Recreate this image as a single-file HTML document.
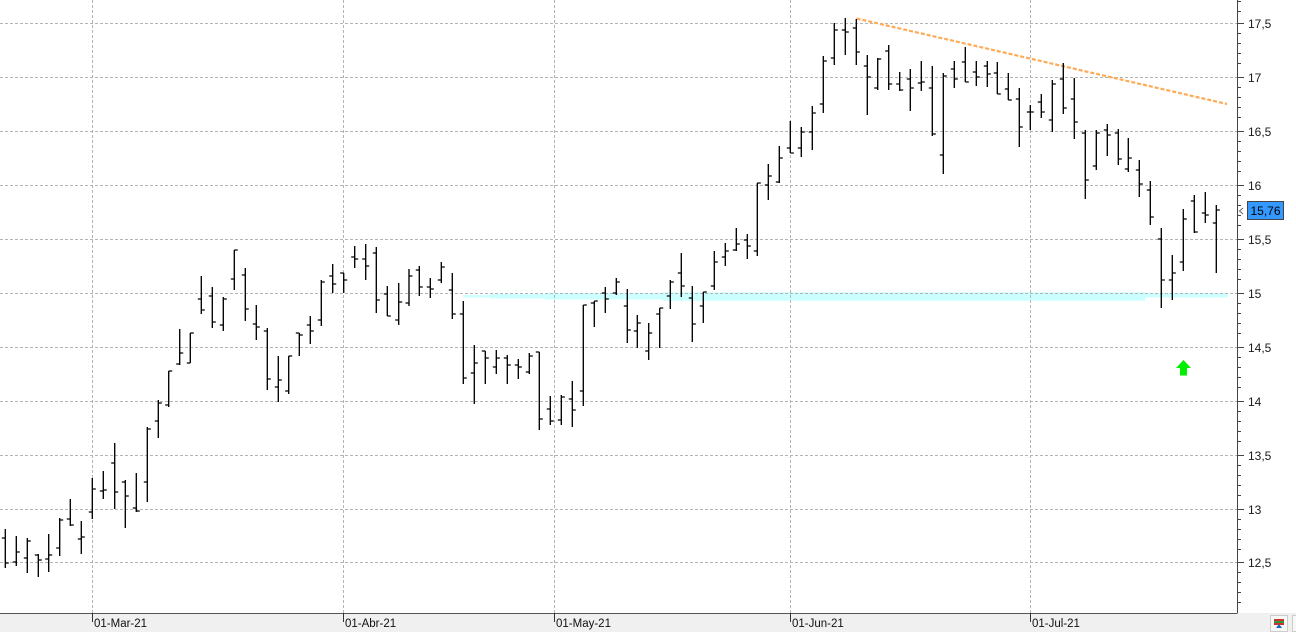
<!DOCTYPE html>
<html><head><meta charset="utf-8"><style>
html,body{margin:0;padding:0;background:#fff;}
svg{display:block;font-family:"Liberation Sans",Arial,sans-serif;}
</style></head><body>
<svg width="1296" height="632" viewBox="0 0 1296 632" xmlns="http://www.w3.org/2000/svg">
<rect x="0" y="0" width="1296" height="632" fill="#fff"/>
<g fill="#ccffff">
<rect x="463" y="295" width="30" height="2.5"/>
<rect x="490" y="294" width="60" height="4.5"/>
<rect x="545" y="293" width="600" height="6.5"/>
<rect x="663" y="292.3" width="482" height="8.5"/>
<rect x="1145" y="293" width="83" height="4.5"/>
</g>
<g stroke="#b4b4b4" stroke-width="1" stroke-dasharray="3 2" fill="none">
<path d="M0 23.5H1237M0 77.5H1237M0 131.5H1237M0 185.5H1237M0 239.5H1237M0 293.5H1237M0 347.5H1237M0 401.5H1237M0 455.5H1237M0 509.5H1237M0 562.5H1237"/>
<path d="M92.5 0V613M343.5 0V613M554.5 0V613M790.5 0V613M1030.5 0V613"/>
</g>
<line x1="856.5" y1="18.5" x2="1227" y2="104" stroke="#ffaa55" stroke-width="2.2" stroke-dasharray="4 2"/>
<path fill="none" stroke="#000" stroke-width="1.35" d="M5.3 529V568M1.8 538H5.3M5.3 563H8.8M16.3 536V566M12.8 562H16.3M16.3 552H19.8M27.3 538V573M23.8 558H27.3M27.3 541H30.8M38.3 554V577M34.8 555H38.3M38.3 560H41.8M48.7 534V572M45.2 559H48.7M48.7 555H52.2M59.7 518V556M56.2 548H59.7M59.7 520H63.2M70.3 499V526M66.8 519H70.3M70.3 525H73.8M81.3 521V554M77.8 539H81.3M81.3 537H84.8M92.3 478V519M88.8 512H92.3M92.3 489H95.8M103.3 471V499M99.8 491H103.3M103.3 490H106.8M114.7 443V509M111.2 463H114.7M114.7 492H118.2M125.3 480V528M121.8 482H125.3M125.3 496H128.8M136.3 473V512M132.8 508H136.3M136.3 511H139.8M147.3 427V502M143.8 482H147.3M147.3 429H150.8M158.3 400V438M154.8 421H158.3M158.3 403H161.8M168.7 371V407M165.2 405H168.7M168.7 371H172.2M179.7 329V365M176.2 364H179.7M179.7 353H183.2M190.3 333V363M186.8 363H190.3M190.3 333H193.8M201.3 276V314M197.8 299H201.3M201.3 310H204.8M212.3 287V328M208.8 296H212.3M212.3 322H215.8M223.3 297V331M219.8 325H223.3M223.3 299H226.8M234.3 250V290M230.8 279H234.3M234.3 250H237.8M245.3 268V321M241.8 275H245.3M245.3 309H248.8M256.3 305V340M252.8 324H256.3M256.3 327H259.8M267.3 328V390M263.8 331H267.3M267.3 379H270.8M278.3 356V402M274.8 387H278.3M278.3 380H281.8M288.7 356V394M285.2 391H288.7M288.7 356H292.2M299.3 333V356M295.8 333H299.3M299.3 335H302.8M310.3 316V344M306.8 325H310.3M310.3 331H313.8M321.3 280V326M317.8 320H321.3M321.3 282H324.8M332.7 264V293M329.2 276H332.7M332.7 284H336.2M343.7 273V293M340.2 273H343.7M343.7 280H347.2M354.7 246V268M351.2 257H354.7M354.7 259H358.2M365.7 244V280M362.2 259H365.7M365.7 266H369.2M376.3 247V313M372.8 253H376.3M376.3 300H379.8M387.3 286V316M383.8 294H387.3M387.3 316H390.8M398.7 283V325M395.2 320H398.7M398.7 302H402.2M409 269V306M405.5 303H409M409 276H412.5M419.3 266V296M415.8 270H419.3M419.3 287H422.8M430.3 278V298M426.8 287H430.3M430.3 289H433.8M441.3 262V283M437.8 280H441.3M441.3 267H444.8M452.3 273V319M448.8 290H452.3M452.3 314H455.8M463.3 301V384M459.8 314H463.3M463.3 378H466.8M474.3 345V404M470.8 373H474.3M474.3 363H477.8M485.3 351V384M481.8 351H485.3M485.3 358H488.8M496.3 350V374M492.8 367H496.3M496.3 358H499.8M507.3 355V384M503.8 358H507.3M507.3 365H510.8M518.3 359V379M514.8 365H518.3M518.3 367H521.8M529.3 353V374M525.8 372H529.3M529.3 356H532.8M539.3 352V430M535.8 352H539.3M539.3 419H542.8M550.3 396V425M546.8 409H550.3M550.3 421H553.8M561.3 395V425M557.8 420H561.3M561.3 397H564.8M572.3 381V427M568.8 399H572.3M572.3 410H575.8M583.3 305V406M579.8 391H583.3M583.3 305H586.8M594.3 301V327M590.8 303H594.3M594.3 301H597.8M605.3 287V313M601.8 293H605.3M605.3 299H608.8M616.3 278V295M612.8 293H616.3M616.3 282H619.8M627.3 289V343M623.8 306H627.3M627.3 330H630.8M637.3 315V348M633.8 331H637.3M637.3 323H640.8M648.7 323V360M645.2 351H648.7M648.7 333H652.2M659.7 308V348M656.2 314H659.7M659.7 308H663.2M670.3 280V309M666.8 296H670.3M670.3 282H673.8M681.3 253V297M677.8 273H681.3M681.3 286H684.8M692.3 286V342M688.8 298H692.3M692.3 324H695.8M703.3 292V323M699.8 306H703.3M703.3 292H706.8M714.3 251V290M710.8 286H714.3M714.3 262H717.8M725.3 243V266M721.8 257H725.3M725.3 251H728.8M736.3 228V251M732.8 250H736.3M736.3 244H739.8M747.3 234V259M743.8 240H747.3M747.3 246H750.8M757.3 183V256M753.8 251H757.3M757.3 183H760.8M768.3 164V200M764.8 185H768.3M768.3 176H771.8M779.3 146V183M775.8 182H779.3M779.3 158H782.8M790.3 121V153M786.8 148H790.3M790.3 153H793.8M801.3 127V157M797.8 148H801.3M801.3 132H804.8M812.3 106V150M808.8 132H812.3M812.3 113H815.8M823.3 56V113M819.8 104H823.3M823.3 61H826.8M834.3 23V65M830.8 58H834.3M834.3 30H837.8M845.3 18V55M841.8 30H845.3M845.3 32H848.8M856.3 19V65M852.8 28H856.3M856.3 52H859.8M867.3 55V115M863.8 66H867.3M867.3 77H870.8M877.7 58V90M874.2 88H877.7M877.7 59H881.2M888.7 45V90M885.2 51H888.7M888.7 84H892.2M899.7 72V91M896.2 84H899.7M899.7 90H903.2M910.3 69V111M906.8 79H910.3M910.3 88H913.8M921.3 61V91M917.8 83H921.3M921.3 82H924.8M932.3 66V136M928.8 88H932.3M932.3 134H935.8M943.3 73V174M939.8 155H943.3M943.3 76H946.8M954.3 61V88M950.8 69H954.3M954.3 79H957.8M965.3 47V82M961.8 62H965.3M965.3 82H968.8M976.3 61V86M972.8 72H976.3M976.3 77H979.8M987.3 61V87M983.8 66H987.3M987.3 74H990.8M997.3 62V94M993.8 73H997.3M997.3 94H1000.8M1008.3 73V100M1004.8 89H1008.3M1008.3 100H1011.8M1019.3 88V147M1015.8 99H1019.3M1019.3 127H1022.8M1030.3 105V130M1026.8 112H1030.3M1030.3 112H1033.8M1041.3 94V118M1037.8 102H1041.3M1041.3 112H1044.8M1052.3 80V132M1048.8 120H1052.3M1052.3 84H1055.8M1063.3 63V114M1059.8 79H1063.3M1063.3 108H1066.8M1074.3 78V139M1070.8 99H1074.3M1074.3 122H1077.8M1085.3 130V199M1081.8 133H1085.3M1085.3 180H1088.8M1096.3 130V170M1092.8 166H1096.3M1096.3 133H1099.8M1107.3 124V156M1103.8 130H1107.3M1107.3 135H1110.8M1118.3 129V165M1114.8 133H1118.3M1118.3 159H1121.8M1128.3 138V172M1124.8 169H1128.3M1128.3 158H1131.8M1139.3 160V197M1135.8 170H1139.3M1139.3 184H1142.8M1150.3 181V225M1146.8 190H1150.3M1150.3 217H1153.8M1161.3 228V308M1157.8 239H1161.3M1161.3 280H1164.8M1172.3 255V300M1168.8 280H1172.3M1172.3 273H1175.8M1183.3 209V271M1179.8 262H1183.3M1183.3 219H1186.8M1194.3 195V233M1190.8 201H1194.3M1194.3 232H1197.8M1205.3 192V223M1201.8 213H1205.3M1205.3 215H1208.8M1216.3 205V273M1212.8 223H1216.3M1216.3 210H1219.8"/>
<polygon points="1183.5,360 1176,368 1180,368 1180,375.5 1187,375.5 1187,368 1191,368" fill="#00ee00"/>
<line x1="1237.5" y1="0" x2="1237.5" y2="613" stroke="#444" stroke-width="1"/>
<path stroke="#444" stroke-width="1" fill="none" d="M1237 23.5H1244M1237 77.5H1244M1237 131.5H1244M1237 185.5H1244M1237 239.5H1244M1237 293.5H1244M1237 347.5H1244M1237 401.5H1244M1237 455.5H1244M1237 509.5H1244M1237 562.5H1244M1237 1.5H1241M1237 11.5H1241M1237 33.5H1241M1237 43.5H1241M1237 53.5H1241M1237 63.5H1241M1237 87.5H1241M1237 97.5H1241M1237 107.5H1241M1237 117.5H1241M1237 141.5H1241M1237 151.5H1241M1237 161.5H1241M1237 171.5H1241M1237 195.5H1241M1237 205.5H1241M1237 215.5H1241M1237 225.5H1241M1237 249.5H1241M1237 259.5H1241M1237 269.5H1241M1237 279.5H1241M1237 303.5H1241M1237 313.5H1241M1237 323.5H1241M1237 333.5H1241M1237 357.5H1241M1237 367.5H1241M1237 377.5H1241M1237 387.5H1241M1237 411.5H1241M1237 421.5H1241M1237 431.5H1241M1237 441.5H1241M1237 465.5H1241M1237 475.5H1241M1237 485.5H1241M1237 495.5H1241M1237 519.5H1241M1237 529.5H1241M1237 539.5H1241M1237 549.5H1241M1237 572.5H1241M1237 582.5H1241M1237 592.5H1241M1237 602.5H1241"/>
<g font-size="12" fill="#1a1a1a">
<text x="1248" y="28">17,5</text>
<text x="1248" y="82">17</text>
<text x="1248" y="136">16,5</text>
<text x="1248" y="190">16</text>
<text x="1248" y="244">15,5</text>
<text x="1248" y="298">15</text>
<text x="1248" y="352">14,5</text>
<text x="1248" y="406">14</text>
<text x="1248" y="460">13,5</text>
<text x="1248" y="514">13</text>
<text x="1248" y="567">12,5</text>
</g>
<polyline points="1243,208 1239.5,211 1243,214" fill="none" stroke="#666" stroke-width="1"/>
<rect x="1247.5" y="201.5" width="36" height="18" fill="#3399ff" stroke="#444" stroke-width="1"/>
<text x="1250.5" y="215" font-size="12" fill="#000">15,76</text>
<rect x="0" y="613" width="1296" height="19" fill="#f0f0f0"/>
<line x1="0" y1="613.5" x2="1237.5" y2="613.5" stroke="#555" stroke-width="1"/>
<path stroke="#333" stroke-width="1" d="M92.5 613V622M343.5 613V622M554.5 613V622M790.5 613V622M1030.5 613V622"/>
<g font-size="11.5" fill="#111">
<text x="94" y="627">01-Mar-21</text>
<text x="345" y="627">01-Abr-21</text>
<text x="556" y="627">01-May-21</text>
<text x="792" y="627">01-Jun-21</text>
<text x="1032" y="627">01-Jul-21</text>
</g>
<rect x="1270.5" y="615.5" width="17" height="16" fill="#f8f8f8" stroke="#ccc"/>
<rect x="1274" y="619" width="10" height="2" fill="#c33"/>
<rect x="1274" y="621" width="10" height="2" fill="#393"/>
<rect x="1274" y="623" width="10" height="2" fill="#c33"/>
<polygon points="1279,624 1276,628 1282,628" fill="#1565c0"/>
<rect x="1292.5" y="615.5" width="5" height="16" fill="#f8f8f8" stroke="#ccc"/>
</svg>
</body></html>
